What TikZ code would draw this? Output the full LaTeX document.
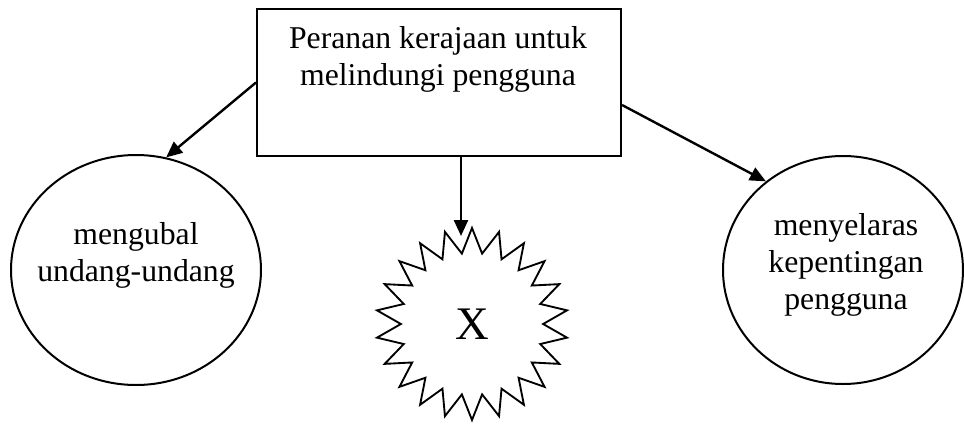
\documentclass[tikz,border=0pt]{standalone}
\usepackage{fontspec}
\setmainfont{Liberation Serif}
\usetikzlibrary{arrows.meta,positioning,shapes.geometric}

\begin{document}
\begin{tikzpicture}[
    x=0.75pt, y=-0.75pt,
    every node/.style={font=\fontsize{23.8pt}{27.75pt}\selectfont},
    topbox/.style={rectangle, draw, line width=1.5pt, minimum width=273pt, minimum height=110.25pt},
    bubble/.style={ellipse, draw, line width=1.5pt, inner sep=0pt},
    burst/.style={star, star points=22, star point ratio=1.35, draw, line width=1.4pt,
                  minimum size=144pt, inner sep=0pt, font=\fontsize{35pt}{42pt}\selectfont},
    words/.style={align=center, anchor=base},
    >={Triangle[length=12pt,width=10.5pt]}
]
    \useasboundingbox (0,0) rectangle (964,425);

    \node[topbox] (peranan) at (439,82.5) {};
    \node[words] (perananlabel) at (438,85) {Peranan kerajaan untuk\\melindungi pengguna};

    \node[bubble, minimum width=187.5pt, minimum height=172.5pt] (mengubal) at (136,270) {};
    \node[words] (menguballabel) at (136,281) {mengubal\\undang-undang};

    \node[burst] (xstar) at (472,324) {X};
    \coordinate (xtip) at (461,236);

    \node[bubble, minimum width=180pt, minimum height=171pt] (menyelaras) at (843,270) {};
    \node[words] (menyelaraslabel) at (846,309) {menyelaras\\kepentingan\\pengguna};

    \draw[->, line width=1.8pt] (peranan.west) -- (mengubal.75);
    \draw[->, line width=1.8pt] (peranan.south -| xtip) -- (xtip);
    \draw[->, line width=1.8pt] (peranan.-7) -- (menyelaras.131);
\end{tikzpicture}
\end{document}
